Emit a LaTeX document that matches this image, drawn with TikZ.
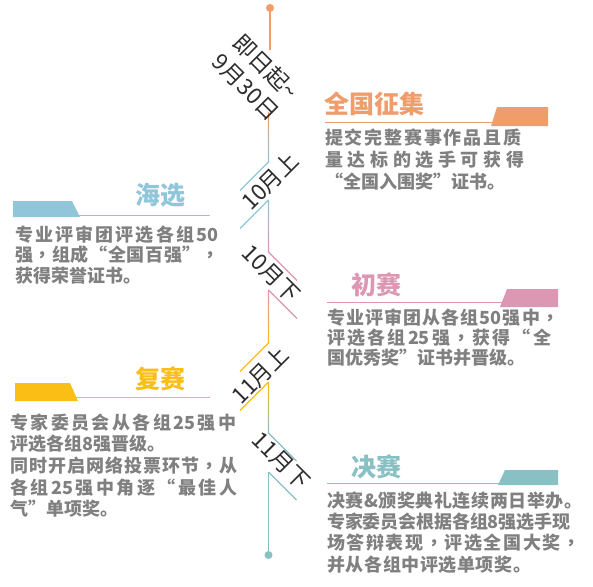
\documentclass[tikz,border=0pt]{standalone}
\usepackage{fontspec}
\newfontfamily\cjk{Noto Sans CJK SC}
\newfontfamily\cjktc{Noto Sans CJK TC}
\definecolor{cO}{RGB}{239,157,107}
\definecolor{cB}{RGB}{145,198,218}
\definecolor{cP}{RGB}{220,152,178}
\definecolor{cY}{RGB}{250,190,20}
\definecolor{cT}{RGB}{137,192,196}
\definecolor{cG}{RGB}{128,128,128}
\definecolor{cD}{RGB}{45,45,45}
\makeatletter
\let\sprend\relax
\def\spr@endm{\sprend}
\def\spreadto#1#2{\hbox to #1{\spr@first#2\sprend}}
\def\spr@first#1{#1\spr@next}
\def\spr@next#1{\def\spr@tmp{#1}\ifx\spr@tmp\spr@endm\else\hskip 0pt plus 1fil minus 3pt\relax#1\expandafter\spr@next\fi}
\makeatother
\def\cm{{\cjktc\bfseries ，}}
\tikzset{
  body/.style={font=\cjk\bfseries\fontsize{18}{21}\selectfont, text=cG, inner sep=0pt, anchor=base west},
  head/.style={font=\cjk\bfseries\fontsize{25}{30}\selectfont, inner sep=0pt},
  lab/.style={font=\cjk\fontsize{22.5}{28}\selectfont, text=cD, inner sep=0pt, align=center},
  tl/.style={line width=1.2pt},
  hl/.style={line width=1pt}
}
\begin{document}
\begin{tikzpicture}[x=1pt,y=-1pt]
\useasboundingbox (0,0) rectangle (593,586);
\fill[white] (0,0) rectangle (593,586);
% ---------- timeline ----------
\def\lx{268.5}
\coordinate (top) at (270,8);
\coordinate (bot) at (\lx,555);
\fill[cO] (top) circle (4);
\fill[cT] (bot) circle (4);
\fill[cO] (269.4,8) rectangle (270.6,50);
\shade[top color=cO, bottom color=cB] (\lx-0.6,112) rectangle (\lx+0.6,162);
\coordinate (a1) at (\lx,162); \coordinate (a2) at (\lx,200);
\draw[tl,cB] (a1) -- ++(-28.5,28.5);
\draw[tl,cB] (a2) -- ++(-28.5,28.5);
\shade[top color=cB, bottom color=cP] (\lx-0.6,200) rectangle (\lx+0.6,252);
\coordinate (b1) at (\lx,252); \coordinate (b2) at (\lx,290);
\draw[tl,cP] (b1) -- ++(28.5,28.5);
\draw[tl,cP] (b2) -- ++(28.5,28.5);
\shade[top color=cP, bottom color=cY] (\lx-0.6,290) rectangle (\lx+0.6,343);
\coordinate (c1) at (\lx,343); \coordinate (c2) at (\lx,382);
\draw[tl,cY] (c1) -- ++(-28.5,28.5);
\draw[tl,cY] (c2) -- ++(-28.5,28.5);
\shade[top color=cY, bottom color=cT] (\lx-0.6,382) rectangle (\lx+0.6,433);
\coordinate (d1) at (\lx,433); \coordinate (d2) at (\lx,472);
\draw[tl,cT] (d1) -- ++(28,28);
\draw[tl,cT] (d2) -- ++(28,28);
\fill[cT] (\lx-0.6,472) rectangle (\lx+0.6,555);
% ---------- timeline labels ----------
\node[lab, rotate=-45] (l0) at (256,77) {即日起\textasciitilde\\9月30日};
\node[lab, rotate=45] (l1) at (270,181) {10月上};
\node[lab, rotate=-45] (l2) at (271,274) {10月下};
\node[lab, rotate=45] (l3) at (260,375) {11月上};
\node[lab, rotate=-45] (l4) at (281,461) {11月下};
% ---------- 全国征集 ----------
\node[head, text=cO, anchor=base west] (h1) at (324,113.5) {全国征集};
\draw[hl,cO] (325,122) -- (494,122);
\fill[cO] (497,107) -- (548,107) -- (548,126) -- (491,126) -- cycle;
\node[body] (t1) at (325,144) {\vtop{\baselineskip=22pt
  \spreadto{196pt}{提交完整赛事作品且质}
  \spreadto{199pt}{量达标的选手可获得}
  \hbox{“全国入围奖”证书。}}};
% ---------- 海选 ----------
\node[head, text=cB, anchor=base east] (h2) at (186,204) {海选};
\draw[hl,cB] (13,215) -- (210,215);
\fill[cB] (13,201) -- (72,201) -- (80,217) -- (13,217) -- cycle;
\node[body] (t2) at (15,241) {\vtop{\baselineskip=20.5pt
  \spreadto{203pt}{专业评审团评选各组{50}}
  \spreadto{204pt}{强\cm 组成“全国百强”\cm}
  \hbox{获得荣誉证书。}}};
% ---------- 初赛 ----------
\node[head, text=cP, anchor=base west] (h3) at (351,294) {初赛};
\draw[hl,cP] (327,302) -- (503,302);
\fill[cP] (507,289) -- (558,289) -- (558,307) -- (500,307) -- cycle;
\node[body] (t3) at (327,324) {\vtop{\baselineskip=20pt
  \spreadto{232pt}{专业评审团从各组{50}强中\cm}
  \spreadto{224pt}{评选各组{25}强\cm 获得“全}
  \hbox{国优秀奖”证书并晋级。}}};
% ---------- 复赛 ----------
\node[head, text=cY, anchor=base east] (h4) at (186,388.5) {复赛};
\draw[hl,cY] (15,397) -- (210,397);
\fill[cY] (15,383) -- (70,383) -- (78,401) -- (15,401) -- cycle;
\node[body] (t4) at (10,429) {\vtop{\baselineskip=21.7pt
  \spreadto{226pt}{专家委员会从各组{25}强中}
  \hbox{评选各组8强晋级。}
  \spreadto{227pt}{同时开启网络投票环节\cm 从}
  \spreadto{227pt}{各组{25}强中角逐“最佳人}
  \hbox{气”单项奖。}}};
% ---------- 决赛 ----------
\node[head, text=cT, anchor=base west] (h5) at (351,476) {决赛};
\draw[hl,cT] (327,483) -- (501,483);
\fill[cT] (505,470) -- (558,470) -- (558,485) -- (498,485) -- cycle;
\node[body] (t5) at (327,507) {\vtop{\baselineskip=21.4pt
  \spreadto{255pt}{决赛\&颁奖典礼连续两日举办。}
  \spreadto{243pt}{专家委员会根据各组8强选手现}
  \spreadto{253pt}{场答辩表现\cm 评选全国大奖\cm}
  \spreadto{204pt}{并从各组中评选单项奖。}}};
\end{tikzpicture}
\end{document}
